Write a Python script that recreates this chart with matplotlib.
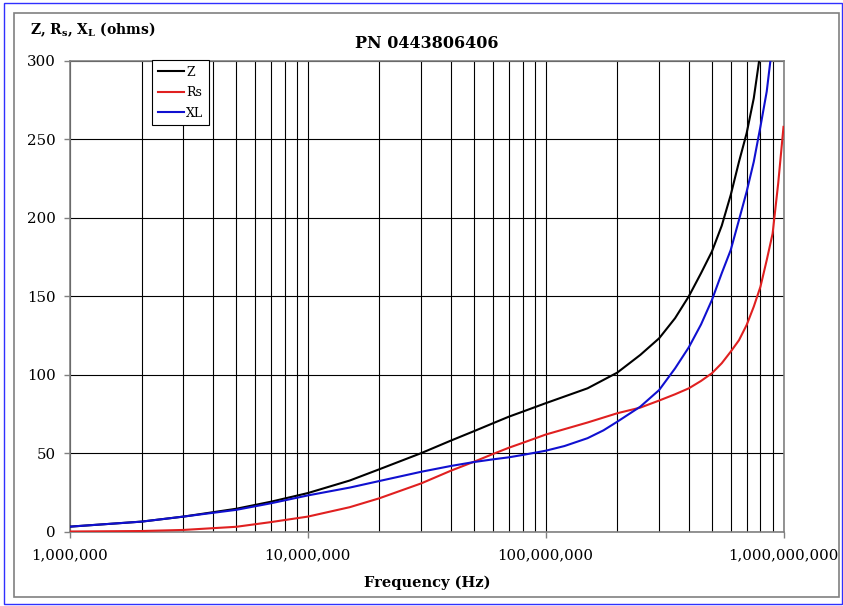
import matplotlib
matplotlib.use("Agg")
import matplotlib.pyplot as plt
from matplotlib.patches import Rectangle
from matplotlib.ticker import FixedLocator, FuncFormatter, NullFormatter, LogLocator

# ---- data (frequencies in Hz, values in ohms) ----
freq_z = [1e6, 2e6, 3e6, 5e6, 7e6, 1e7, 1.5e7, 2e7, 3e7, 4e7, 5e7, 6e7, 7e7, 8e7,
          1e8, 1.5e8, 2e8, 2.5e8, 3e8, 3.5e8, 4e8, 4.5e8, 5e8, 5.5e8, 6e8, 6.5e8,
          7e8, 7.5e8, 8e8]
z_vals = [3.1, 6.3, 9.5, 14.5, 19.0, 24.5, 32.5, 39.7, 50.0, 58.0, 64.0, 69.0, 73.2, 76.4,
          81.8, 91.3, 101.3, 112.6, 123.2, 136.0, 150.0, 164.7, 178.5, 195.0, 214.6, 235.8,
          254.0, 276.3, 306.0]

freq_xl = [1e6, 2e6, 3e6, 5e6, 7e6, 1e7, 1.5e7, 2e7, 3e7, 4e7, 5e7, 6e7, 7e7, 8e7,
           1e8, 1.2e8, 1.5e8, 1.75e8, 2e8, 2.5e8, 3e8, 3.5e8, 4e8, 4.5e8, 5e8, 5.5e8,
           6e8, 6.5e8, 7e8, 7.5e8, 8e8, 8.5e8, 9e8]
xl_vals = [3.1, 6.3, 9.5, 13.8, 18.0, 23.0, 28.0, 32.2, 38.1, 41.8, 44.3, 46.0, 47.3, 48.8,
           51.5, 54.5, 59.5, 64.5, 70.0, 79.6, 90.2, 104.0, 117.5, 132.0, 147.6, 164.7,
           179.5, 198.7, 216.7, 235.8, 258.2, 280.5, 312.0]

freq_rs = [1e6, 2e6, 3e6, 5e6, 7e6, 1e7, 1.5e7, 2e7, 3e7, 4e7, 5e7, 6e7, 7e7, 8e7,
           1e8, 1.5e8, 2e8, 2.5e8, 3e8, 3.5e8, 4e8, 4.5e8, 5e8, 5.5e8, 6e8, 6.5e8,
           7e8, 7.5e8, 8e8, 8.5e8, 9e8, 9.5e8, 1e9]
rs_vals = [0.0, 0.3, 1.0, 3.0, 6.0, 9.5, 15.5, 21.2, 30.7, 38.8, 44.5, 49.4, 53.4, 56.5,
           61.8, 69.5, 75.4, 79.0, 83.5, 87.5, 91.3, 96.0, 100.9, 107.3, 114.7, 122.0,
           131.7, 143.4, 156.1, 173.0, 190.0, 222.0, 258.0]

x_ticks = [1e6, 1e7, 1e8, 1e9]
y_ticks = [0, 50, 100, 150, 200, 250, 300]
title = "PN 0443806406"
xlabel = "Frequency (Hz)"
ylabel = r"Z, R$_\mathbf{s}$, X$_\mathbf{L}$ (ohms)"
series_labels = ["Z", "Rs", "XL"]

# ---- figure ----
plt.rcParams["font.family"] = ["DejaVu Serif"]
plt.rcParams["mathtext.fontset"] = "dejavuserif"
W, H = 843, 606
fig = plt.figure(figsize=(W / 100, H / 100), dpi=100)
fig.patch.set_facecolor("white")

x0, x1, yt, yb = 70, 783.5, 61, 531.5
ax = fig.add_axes([x0 / W, 1 - yb / H, (x1 - x0) / W, (yb - yt) / H])

ax.set_xscale("log")
ax.set_xlim(1e6, 1e9)
ax.set_ylim(0, 300)

ax.plot(freq_z, z_vals, color="black", lw=1.5, label=series_labels[0], zorder=3)
ax.plot(freq_rs, rs_vals, color="#e02020", lw=1.5, label=series_labels[1], zorder=3)
ax.plot(freq_xl, xl_vals, color="#1010d0", lw=1.5, label=series_labels[2], zorder=3)

# grid
ax.xaxis.set_major_locator(FixedLocator(x_ticks))
ax.xaxis.set_minor_locator(LogLocator(base=10, subs=range(2, 10)))
ax.xaxis.set_major_formatter(FuncFormatter(lambda v, p: f"{int(round(v)):,}"))
ax.xaxis.set_minor_formatter(NullFormatter())
ax.yaxis.set_major_locator(FixedLocator(y_ticks))
ax.grid(True, which="both", axis="x", color="black", lw=0.8)
ax.grid(True, which="major", axis="y", color="black", lw=0.8)
ax.set_axisbelow(True)

for s in ax.spines.values():
    s.set_color("#808080")
    s.set_linewidth(1.2)

ax.tick_params(axis="both", which="major", direction="out", length=4, width=1,
               color="#808080", labelsize=10.8, pad=6)
ax.tick_params(axis="x", which="minor", length=0)
ax.tick_params(axis="x", which="major", pad=8)

ax.set_xlabel(xlabel, fontsize=10.5, fontweight="bold", labelpad=10)
fig.text(427 / W, 1 - 43 / H, title, fontsize=11.5, fontweight="bold",
         ha="center", va="center")
fig.text(30 / W, 1 - 30 / H, ylabel, fontsize=10, fontweight="bold",
         ha="left", va="center")

leg = ax.legend(loc="upper left", bbox_to_anchor=(152 / W, 1 - 60 / H),
                bbox_transform=fig.transFigure, fontsize=9, frameon=True,
                fancybox=False, framealpha=1, edgecolor="black",
                handlelength=2.1, handletextpad=0.2, labelspacing=0.6,
                borderpad=0.45, borderaxespad=0)
leg.get_frame().set_linewidth(0.8)

# outer frames
fig.add_artist(Rectangle((14 / W, 1 - 597 / H), (839 - 14) / W, (597 - 13) / H,
                         transform=fig.transFigure, fill=False,
                         edgecolor="#808080", lw=1.2))
fig.add_artist(Rectangle((4 / W, 1 - 604 / H), (842 - 4) / W, (604 - 3) / H,
                         transform=fig.transFigure, fill=False,
                         edgecolor="#3030ff", lw=1.0))

fig.savefig("out.png", dpi=100)
